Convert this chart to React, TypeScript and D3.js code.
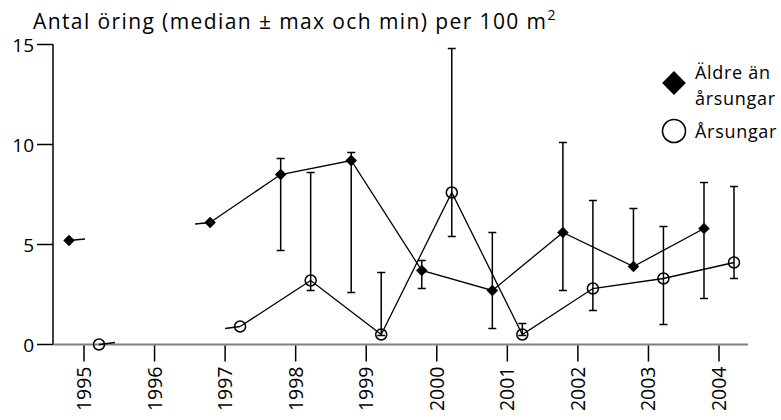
import React, { useEffect } from 'react';
import * as d3 from 'd3';

// Antal öring per 100 m², median with max/min
const years = [1995, 1996, 1997, 1998, 1999, 2000, 2001, 2002, 2003, 2004];

const olderMedian = [5.2, null, 6.1, 8.5, 9.2, 3.7, 2.7, 5.6, 3.9, 5.8];
const olderMax = [5.2, null, 6.1, 9.3, 9.6, 4.2, 5.6, 10.1, 6.8, 8.1];
const olderMin = [5.2, null, 6.1, 4.7, 2.6, 2.8, 0.8, 2.7, 3.9, 2.3];

const youngMedian = [0, null, 0.9, 3.2, 0.5, 7.6, 0.5, 2.8, 3.3, 4.1];
const youngMax = [0, null, 0.9, 8.6, 3.6, 14.8, 1.05, 7.2, 5.9, 7.9];
const youngMin = [0, null, 0.9, 2.7, 0.45, 5.4, 0.45, 1.7, 1.0, 3.3];

const yTicks = [0, 5, 10, 15];

const W = 781;
const H = 420;
const FONT = '"Open Sans", sans-serif';

type Pt = { year: number; med: number; max: number; min: number };

function toPoints(med: (number | null)[], max: (number | null)[], min: (number | null)[]): Pt[] {
  return years
    .map((year, i) => ({ year, med: med[i], max: max[i], min: min[i] }))
    .filter(d => d.med !== null) as Pt[];
}

const older = toPoints(olderMedian, olderMax, olderMin);
const young = toPoints(youngMedian, youngMax, youngMin);

export default function App() {
  useEffect(() => {
    document.body.style.margin = '0';
  }, []);

  const x = d3.scalePoint<number>().domain(years).range([84, 719]);
  const y = d3.scaleLinear().domain([0, 15]).range([344.5, 44.5]);
  const axisX = 53;
  const offset = 15;

  const line = (dx: number) =>
    d3.line<Pt>()
      .defined(d => d.year !== 1995)
      .x(d => (x(d.year) as number) + dx)
      .y(d => y(d.med));

  const diamond = d3.symbol().type(d3.symbolDiamond2).size(85)();

  // short stubs next to the gap year, as in the original
  const stubs = (data: Pt[], dx: number, rise: number) => {
    const a = data[0];
    const b = data[1];
    const ax = (x(a.year) as number) + dx;
    const bx = (x(b.year) as number) + dx;
    return (
      <g stroke="#000" strokeWidth={1.3}>
        <line x1={ax} y1={y(a.med)} x2={ax + 16} y2={y(a.med) - rise} />
        <line x1={bx - 15} y1={y(b.med) + rise} x2={bx} y2={y(b.med)} />
      </g>
    );
  };

  const errorBars = (data: Pt[], dx: number) =>
    data
      .filter(d => d.max !== d.min)
      .map(d => {
        const cx = (x(d.year) as number) + dx;
        return (
          <g key={d.year} stroke="#000" strokeWidth={1.5}>
            <line x1={cx} x2={cx} y1={y(d.max)} y2={y(d.min)} />
            <line x1={cx - 4} x2={cx + 4} y1={y(d.max)} y2={y(d.max)} />
            <line x1={cx - 4} x2={cx + 4} y1={y(d.min)} y2={y(d.min)} />
          </g>
        );
      });

  return (
    <svg width={W} height={H} style={{ display: 'block', background: '#fff' }} fontFamily={FONT}>
      {/* title */}
      <text x={33} y={29} fontSize={21} letterSpacing={1.4} fill="#000">
        Antal öring (median ± max och min) per 100 m
        <tspan fontSize={14} dy={-9} letterSpacing={0}>2</tspan>
      </text>

      {/* y axis */}
      <line x1={axisX} x2={axisX} y1={y(15)} y2={y(0)} stroke="#000" strokeWidth={1.5} />
      {yTicks.map(t => (
        <g key={t}>
          <line x1={axisX - 16} x2={axisX} y1={y(t)} y2={y(t)} stroke="#000" strokeWidth={1.5} />
          <text x={34} y={y(t)} dy="0.38em" textAnchor="end" fontSize={19}>
            {t}
          </text>
        </g>
      ))}

      {/* x axis */}
      <line x1={axisX} x2={748} y1={y(0)} y2={y(0)} stroke="#808080" strokeWidth={2} />
      {years.map(yr => (
        <g key={yr} transform={`translate(${x(yr)},${y(0)})`}>
          <line y1={1} y2={17} stroke="#000" strokeWidth={1.5} />
          <text transform="translate(0,22) rotate(-90)" textAnchor="end" dy="0.36em" fontSize={19.5}>
            {yr}
          </text>
        </g>
      ))}

      {/* error bars */}
      {errorBars(older, -offset)}
      {errorBars(young, offset)}

      {/* lines */}
      <path d={line(-offset)(older) || ''} fill="none" stroke="#000" strokeWidth={1.3} />
      <path d={line(offset)(young) || ''} fill="none" stroke="#000" strokeWidth={1.3} />
      {stubs(older, -offset, 1.5)}
      {stubs(young, offset, 2)}

      {/* markers */}
      {older.map(d => (
        <path
          key={d.year}
          d={diamond || ''}
          transform={`translate(${(x(d.year) as number) - offset},${y(d.med)})`}
          fill="#000"
        />
      ))}
      {young.map(d => (
        <circle
          key={d.year}
          cx={(x(d.year) as number) + offset}
          cy={y(d.med)}
          r={5.5}
          fill="none"
          stroke="#000"
          strokeWidth={1.5}
        />
      ))}

      {/* legend */}
      <path d={d3.symbol().type(d3.symbolDiamond2).size(360)() || ''} transform="translate(674,83)" fill="#000" />
      <text x={695} y={79} fontSize={18} letterSpacing={0.7}>Äldre än</text>
      <text x={695} y={105} fontSize={18} letterSpacing={0.7}>årsungar</text>
      <circle cx={674} cy={131} r={11.5} fill="none" stroke="#000" strokeWidth={1.6} />
      <text x={695} y={138} fontSize={18} letterSpacing={0.7}>Årsungar</text>
    </svg>
  );
}
